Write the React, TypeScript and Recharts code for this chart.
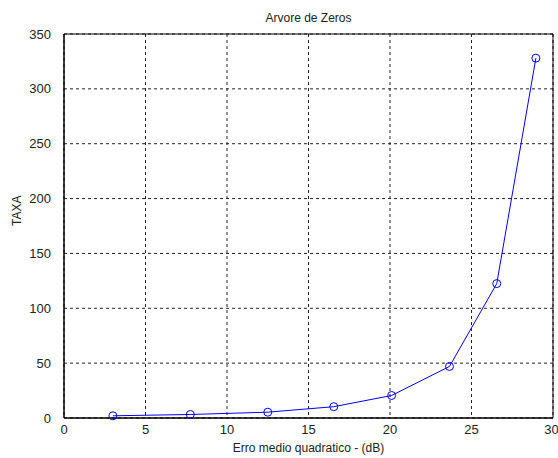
import { LineChart, Line, XAxis, YAxis, CartesianGrid, ReferenceArea } from "recharts";

const erroDb = [3.0, 7.75, 12.5, 16.55, 20.1, 23.65, 26.55, 28.95];
const taxa = [2, 3.2, 5.3, 10.3, 20.5, 47, 122.5, 328];
const xTicks = [0, 5, 10, 15, 20, 25, 30];
const yTicks = [0, 50, 100, 150, 200, 250, 300, 350];

const data = erroDb.map((x, i) => ({ x, taxa: taxa[i] }));

const FONT = "'Liberation Sans', Arial, sans-serif";
const TEXT = "#222";

export default function App() {
  return (
    <div style={{ position: "absolute", left: 0, top: 0, width: 558, height: 458, background: "#fff", fontFamily: FONT }}>
      <div style={{ position: "absolute", left: 64, width: 489, top: 11, textAlign: "center", fontSize: 12, color: TEXT }}>
        Arvore de Zeros
      </div>
      <LineChart width={558} height={458} data={data} margin={{ top: 34, right: 5, left: 0, bottom: 0 }}>
        <CartesianGrid stroke="#222" strokeDasharray="3 3" />
        <XAxis
          dataKey="x"
          type="number"
          domain={[0, 30]}
          ticks={xTicks}
          height={40}
          stroke="#000"
          tickLine={false}
          tickMargin={1}
          tick={{ fontSize: 13, fill: TEXT, fontFamily: FONT }}
          label={{ value: "Erro medio quadratico - (dB)", position: "insideBottom", offset: 6, fontSize: 12, fill: TEXT, fontFamily: FONT }}
        />
        <YAxis
          type="number"
          domain={[0, 350]}
          ticks={yTicks}
          width={64}
          stroke="#000"
          tickLine={false}
          tickMargin={7}
          tick={{ fontSize: 13, fill: TEXT, fontFamily: FONT }}
          label={{ value: "TAXA", angle: -90, position: "insideLeft", offset: 17, fontSize: 12, fill: TEXT, fontFamily: FONT }}
        />
        <ReferenceArea x1={0} x2={30} y1={0} y2={350} fill="none" stroke="#000" strokeWidth={1} ifOverflow="visible" />
        <Line
          dataKey="taxa"
          type="linear"
          stroke="#0000ff"
          strokeWidth={1}
          dot={{ r: 4, stroke: "#0000ff", strokeWidth: 1, fill: "none" }}
          activeDot={false}
          isAnimationActive={false}
        />
      </LineChart>
    </div>
  );
}
